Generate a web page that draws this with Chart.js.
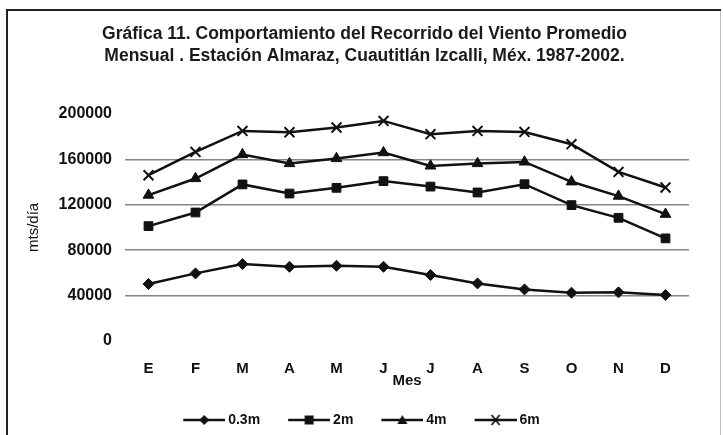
<!DOCTYPE html>
<html>
<head>
<meta charset="utf-8">
<script src="https://cdn.jsdelivr.net/npm/chart.js@4/dist/chart.umd.min.js"></script>
<style>
  html, body { margin: 0; padding: 0; background: #fff; }
  #wrap { width: 723px; height: 435px; position: relative; }
</style>
</head>
<body>
<div id="wrap"><canvas id="chart_vientoAlmaraz"></canvas></div>
<script>
// data (mts/dia, monthly means 1987-2002)
var months = ['E', 'F', 'M', 'A', 'M', 'J', 'J', 'A', 'S', 'O', 'N', 'D'];
var yTickValues = [0, 40000, 80000, 120000, 160000, 200000];
var seriesNames = ['0.3m', '2m', '4m', '6m'];
var h03 = [50100, 59500, 67700, 65300, 66200, 65300, 58000, 50700, 45400, 42500, 42800, 40400];
var h2 = [101100, 113100, 137800, 129800, 134800, 140700, 135900, 130700, 138000, 119600, 108400, 90300];
var h4 = [128400, 143000, 164100, 156200, 160600, 165800, 154100, 156200, 157600, 140100, 127500, 111600];
var h6 = [145900, 166400, 184900, 183700, 187900, 193700, 182000, 184900, 184000, 173200, 148800, 135100];

var FONT = '"Liberation Sans", Arial, sans-serif';
var INK = '#111';
var markerStyles = ['rectRot', 'rect', 'triangle', 'crossRot'];

// little legend icons: line with the marker in the middle
function legendIcon(kind) {
    var c = document.createElement('canvas');
    c.width = 70; c.height = 14;
    var g = c.getContext('2d');
    var cx = 49, cy = 7;
    g.strokeStyle = INK; g.fillStyle = INK; g.lineWidth = 2.5;
    g.beginPath(); g.moveTo(28, cy); g.lineTo(70, cy); g.stroke();
    g.beginPath();
    if (kind === 'rectRot') {
        g.moveTo(cx, cy - 5); g.lineTo(cx + 5, cy); g.lineTo(cx, cy + 5); g.lineTo(cx - 5, cy); g.closePath(); g.fill();
    } else if (kind === 'rect') {
        g.rect(cx - 4.5, cy - 4.5, 9, 9); g.fill();
    } else if (kind === 'triangle') {
        g.moveTo(cx, cy - 5); g.lineTo(cx + 5, cy + 4); g.lineTo(cx - 5, cy + 4); g.closePath(); g.fill();
    } else {
        g.lineWidth = 1.8;
        g.moveTo(cx - 4, cy - 5); g.lineTo(cx + 4, cy + 5);
        g.moveTo(cx + 4, cy - 5); g.lineTo(cx - 4, cy + 5); g.stroke();
    }
    return c;
}
var legendIcons = markerStyles.map(legendIcon);

function makeSet(i, values, radius) {
    return {
        label: seriesNames[i],
        data: values,
        borderColor: INK,
        backgroundColor: INK,
        borderWidth: 2.5,
        pointStyle: markerStyles[i],
        pointRadius: radius,
        pointHoverRadius: radius,
        pointBackgroundColor: INK,
        pointBorderColor: INK,
        pointBorderWidth: markerStyles[i] === 'crossRot' ? 2 : 1,
        tension: 0
    };
}

var chart_vientoAlmaraz = new Chart(document.getElementById('chart_vientoAlmaraz'), {
    type: 'line',
    data: {
        labels: months,
        datasets: [
            makeSet(0, h03, 5.5),
            makeSet(1, h2, 6.2),
            makeSet(2, h4, 6.2),
            makeSet(3, h6, 7)
        ]
    },
    options: {
        animation: false,
        responsive: true,
        maintainAspectRatio: false,
        layout: {
            padding: { left: 10, right: 34, top: 10, bottom: 6 }
        },
        plugins: {
            title: {
                display: true,
                text: ['Gráfica 11. Comportamiento del Recorrido del Viento Promedio',
                       'Mensual . Estación Almaraz, Cuautitlán Izcalli, Méx. 1987-2002.'],
                color: '#1a1a1a',
                font: { family: FONT, size: 17.5, weight: 'bold', lineHeight: 1.25 },
                padding: { top: 13, bottom: 47 }
            },
            legend: {
                position: 'bottom',
                maxHeight: 20,
                labels: {
                    usePointStyle: true,
                    pointStyleWidth: 62,
                    padding: 4,
                    color: INK,
                    font: { family: FONT, size: 14, weight: 'bold' },
                    generateLabels: function (chart) {
                        return chart.data.datasets.map(function (ds, i) {
                            return {
                                text: ds.label,
                                pointStyle: legendIcons[i],
                                fillStyle: INK,
                                strokeStyle: INK,
                                lineWidth: 0,
                                fontColor: INK,
                                hidden: false,
                                datasetIndex: i
                            };
                        });
                    }
                }
            },
            tooltip: { enabled: false }
        },
        scales: {
            x: {
                offset: true,
                grid: { display: false, drawTicks: false },
                border: { display: false },
                ticks: {
                    color: INK,
                    padding: 19,
                    maxRotation: 0,
                    font: { family: FONT, size: 15, weight: 'bold' }
                },
                title: {
                    display: true,
                    text: 'Mes',
                    color: INK,
                    font: { family: FONT, size: 15, weight: 'bold' },
                    padding: { top: 0, bottom: 19 }
                },
                afterFit: function (scale) { scale.height = 68; }
            },
            y: {
                min: 0,
                max: 200000,
                afterBuildTicks: function (scale) {
                    scale.ticks = yTickValues.map(function (v) { return { value: v }; });
                },
                grid: {
                    drawTicks: false,
                    lineWidth: 1.4,
                    color: function (ctx) {
                        var v = ctx.tick && ctx.tick.value;
                        return (v === 0 || v === 200000) ? 'rgba(0,0,0,0)' : '#858585';
                    }
                },
                border: { display: false },
                ticks: {
                    color: INK,
                    padding: 13,
                    font: { family: FONT, size: 16, weight: 'bold' },
                    callback: function (v) { return String(v); }
                },
                title: {
                    display: true,
                    text: 'mts/día',
                    color: INK,
                    font: { family: FONT, size: 15 },
                    padding: { top: 15, bottom: 0 }
                },
                afterFit: function (scale) { scale.width = 115; }
            }
        }
    },
    plugins: [{
        id: 'paperFrame',
        afterLayout: function (chart) {
            // the printed title sits a bit right of the frame centre
            if (chart.titleBlock) {
                chart.titleBlock.left += 15;
                chart.titleBlock.right += 15;
            }
        },
        beforeDraw: function (chart) {
            var ctx = chart.ctx;
            ctx.save();
            ctx.fillStyle = 'white';
            ctx.fillRect(0, 0, chart.width, chart.height);
            ctx.strokeStyle = '#bdbdbd';
            ctx.lineWidth = 1;
            ctx.beginPath(); ctx.moveTo(720.5, 10); ctx.lineTo(720.5, 435); ctx.stroke();
            ctx.strokeStyle = '#222';
            ctx.lineWidth = 2;
            ctx.beginPath();
            ctx.moveTo(7, 440); ctx.lineTo(7, 10); ctx.lineTo(721, 10);
            ctx.stroke();
            ctx.restore();
        }
    }]
});
</script>
</body>
</html>
